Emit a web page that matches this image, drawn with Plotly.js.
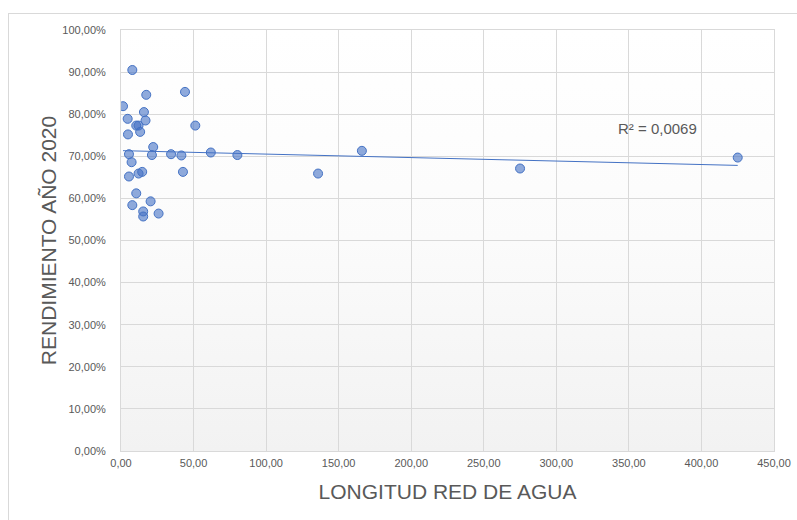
<!DOCTYPE html>
<html>
<head>
<meta charset="utf-8">
<script src="https://cdn.plot.ly/plotly-3.0.1.min.js"></script>
<style>
  html, body { margin: 0; padding: 0; background: #ffffff; }
  #wrap { position: relative; width: 797px; height: 520px; overflow: hidden; }
  #frame { position: absolute; left: 8px; top: 13px; width: 800px; height: 520px; border: 1px solid #d9d9d9; box-sizing: border-box; }
  #grad { position: absolute; left: 121px; top: 30px; width: 653px; height: 421px;
          background: linear-gradient(to bottom, #ffffff 0%, #fbfbfb 50%, #f2f2f2 100%); }
  #chart { position: absolute; left: 0; top: 0; width: 797px; height: 520px; }
</style>
</head>
<body>
<div id="wrap">
  <div id="frame"></div>
  <div id="grad"></div>
  <div id="chart"></div>
</div>
<script>
// Longitud red de agua (x) vs rendimiento año 2020 (y)
const longitud = [7.8, 17.4, 44.1, 1.4, 15.8, 4.6, 16.9, 10.5, 12.1, 51.2, 13.2, 4.8, 22.2, 5.5, 21.3, 34.5, 41.6, 61.9, 80.2, 7.3, 14.6, 12.1, 42.7, 5.5, 10.5, 20.4, 7.8, 15.3, 15.3, 25.9, 135.8, 166.0, 275.0, 425.0];
const rendimiento = [0.905, 0.846, 0.853, 0.819, 0.805, 0.789, 0.785, 0.773, 0.773, 0.773, 0.758, 0.752, 0.722, 0.705, 0.703, 0.705, 0.702, 0.709, 0.703, 0.686, 0.663, 0.659, 0.663, 0.652, 0.612, 0.593, 0.584, 0.569, 0.557, 0.564, 0.659, 0.713, 0.671, 0.697];
const r2Label = "R² = 0,0069";
const xTitle = "LONGITUD RED DE AGUA";
const yTitle = "RENDIMIENTO AÑO 2020";

// Linear trendline (least squares) from the data
const n = longitud.length;
const mx = longitud.reduce((a, b) => a + b, 0) / n;
const my = rendimiento.reduce((a, b) => a + b, 0) / n;
let sxy = 0, sxx = 0;
for (let i = 0; i < n; i++) { sxy += (longitud[i] - mx) * (rendimiento[i] - my); sxx += (longitud[i] - mx) ** 2; }
const slope = sxy / sxx, intercept = my - slope * mx;
const xmin = Math.min(...longitud), xmax = Math.max(...longitud);
const trendX = [xmin, xmax];
const trendY = trendX.map(v => intercept + slope * v);

const font = "'Liberation Sans', Arial, sans-serif";
const grey = "#595959";

const traces = [
  { x: trendX, y: trendY, mode: "lines", type: "scatter",
    line: { color: "#4472c4", width: 1 }, hoverinfo: "skip", showlegend: false },
  { x: longitud, y: rendimiento, mode: "markers", type: "scatter",
    marker: { size: 9, color: "rgba(68,114,196,0.6)", line: { color: "#4472c4", width: 1 } },
    showlegend: false }
];

const layout = {
  width: 797, height: 520,
  margin: { l: 121, r: 23, t: 30, b: 69, pad: 0 },
  paper_bgcolor: "rgba(0,0,0,0)",
  plot_bgcolor: "rgba(0,0,0,0)",
  separators: ",.",
  font: { family: font, color: grey, size: 11 },
  showlegend: false,
  xaxis: {
    range: [0, 450], dtick: 50, tick0: 0, tickformat: ".2f",
    showgrid: true, gridcolor: "#d9d9d9", gridwidth: 1,
    zeroline: false, showline: true, linecolor: "#d9d9d9", linewidth: 1, mirror: true,
    ticks: "outside", ticklen: 2, tickcolor: "rgba(0,0,0,0)",
    tickfont: { family: font, size: 11, color: grey },
    title: { text: xTitle, font: { family: font, size: 21, color: grey }, standoff: 16 }
  },
  yaxis: {
    range: [0, 1], dtick: 0.1, tick0: 0, tickformat: ".2%",
    showgrid: true, gridcolor: "#d9d9d9", gridwidth: 1,
    zeroline: false, showline: true, linecolor: "#d9d9d9", linewidth: 1, mirror: true,
    ticks: "outside", ticklen: 12, tickcolor: "rgba(0,0,0,0)",
    tickfont: { family: font, size: 11, color: grey },
    title: { text: yTitle, font: { family: font, size: 21, color: grey }, standoff: 0 }
  },
  annotations: [
    { text: r2Label, xref: "x", yref: "y", x: 341, y: 0.767, xanchor: "left", yanchor: "middle",
      showarrow: false, font: { family: font, size: 15, color: grey } }
  ]
};

Plotly.newPlot("chart", traces, layout, { displayModeBar: false, staticPlot: true });
</script>
</body>
</html>
